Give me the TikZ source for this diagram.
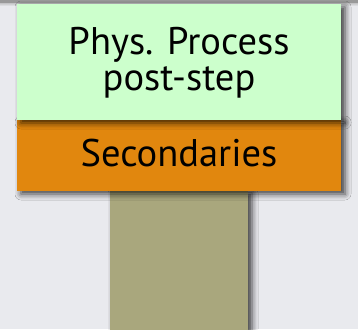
\documentclass[tikz,border=0pt]{standalone}
\usepackage{fontspec}
\setmainfont{PT Sans}
\usetikzlibrary{shadows.blur}
\definecolor{bgc}{HTML}{E9EAEE}
\definecolor{procc}{HTML}{CCFFCC}
\definecolor{secc}{HTML}{E1870E}
\definecolor{stemc}{HTML}{A9A77D}
\tikzset{
  box/.style={draw=none, blur shadow={shadow xshift=4pt, shadow yshift=-3pt, shadow blur radius=6pt, shadow opacity=75}},
  lbl/.style={font=\fontsize{38.5}{34}\selectfont, text=black, inner sep=0pt, anchor=base}
}
\begin{document}
\begin{tikzpicture}[x=1pt,y=-1pt]
\useasboundingbox (0,0) rectangle (358,329);
\fill[bgc] (0,0) rectangle (358,329);
\fill[gray!75, path fading=south] (0,0) rectangle (358,6);
\fill[gray!80] (0,0) rectangle (358,3);
\path[box, fill=stemc] (110,190) rectangle (248,335);
\path[box, fill=secc] (17,119) rectangle (341,191);
\path[box, fill=procc] (17,4) rectangle (341,120);
\node[lbl] (proc) at (179,55) {Phys. Process};
\node[lbl] (post) at (179,90) {post-step};
\node[lbl] (sec) at (179,166) {Secondaries};
\end{tikzpicture}
\end{document}
